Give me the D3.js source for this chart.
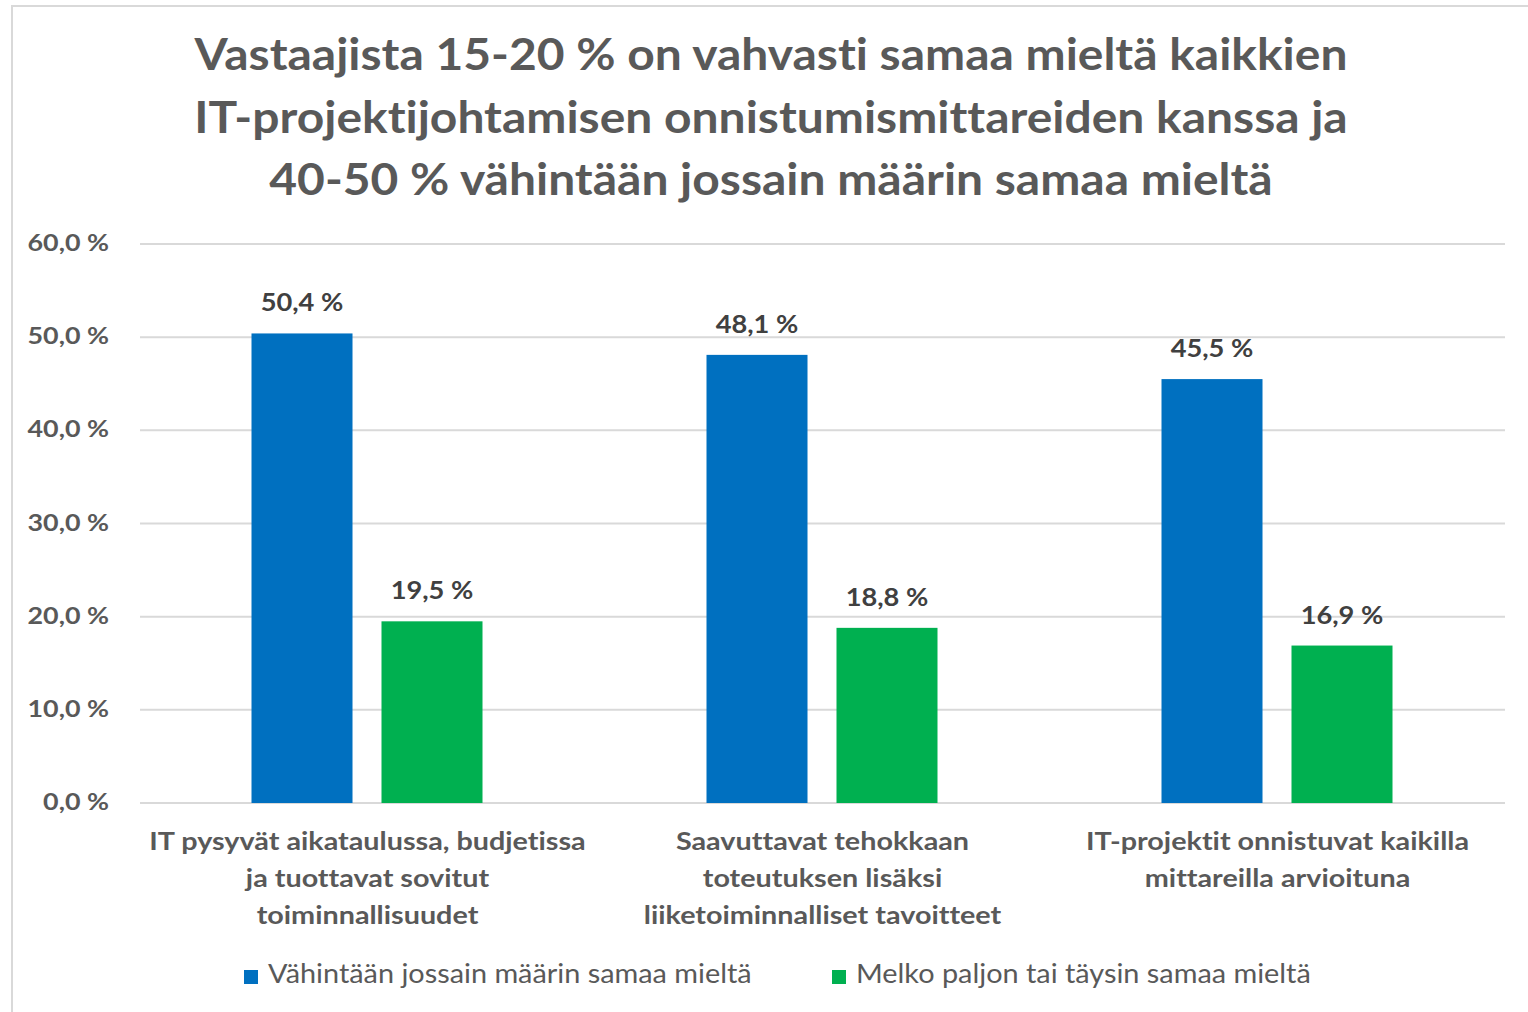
<!DOCTYPE html>
<html><head><meta charset="utf-8">
<script src="https://cdn.jsdelivr.net/npm/d3@7"></script>
<style>body{margin:0;background:#fff;} svg{display:block;font-family:Lato, "Open Sans", sans-serif;font-variant-ligatures:none;font-feature-settings:"liga" 0, "clig" 0;}</style>
</head><body>
<svg id="c" width="1528" height="1012"></svg>
<script>
const titleLines = ["Vastaajista 15-20 % on vahvasti samaa mieltä kaikkien","IT-projektijohtamisen onnistumismittareiden kanssa ja","40-50 % vähintään jossain määrin samaa mieltä"];
const categories = ["c1","c2","c3"];
const categoryLabels = [["IT pysyvät aikataulussa, budjetissa","ja tuottavat sovitut","toiminnallisuudet"],["Saavuttavat tehokkaan","toteutuksen lisäksi","liiketoiminnalliset tavoitteet"],["IT-projektit onnistuvat kaikilla","mittareilla arvioituna"]];
const seriesNames = ["Vähintään jossain määrin samaa mieltä","Melko paljon tai täysin samaa mieltä"];
const seriesColors = ["#0070C0","#00B050"];
const series1 = [50.4, 48.1, 45.5];
const series2 = [19.5, 18.8, 16.9];
const yTicks = [0,10,20,30,40,50,60];

const svg = d3.select("#c");
svg.append("rect").attr("x",12).attr("y",6).attr("width",1530).attr("height",1030).attr("fill","none").attr("stroke","#d9d9d9").attr("stroke-width",2);

const pLeft=140, pRight=1505, pTop=244, pBottom=803;
const x = d3.scaleBand().domain(categories).range([pLeft,pRight]);
const y = d3.scaleLinear().domain([0,60]).range([pBottom,pTop]);

function stext(parent, tx, ty, str, opts){
  return parent.append("text")
    .attr("transform",`translate(${tx},${ty}) scale(${opts.sx},1)`)
    .attr("x",0).attr("y",0)
    .attr("text-anchor",opts.anchor||"start")
    .attr("font-size",opts.size).attr("font-weight",opts.weight||"normal")
    .attr("fill",opts.fill).text(str);
}

titleLines.forEach((l,i)=>stext(svg,771,70+i*62.5,l,{sx:1.09,anchor:"middle",size:44,weight:"bold",fill:"#595959"}));

svg.append("g").selectAll("line").data(yTicks).join("line")
  .attr("x1",pLeft).attr("x2",pRight).attr("y1",d=>y(d)).attr("y2",d=>y(d))
  .attr("stroke","#d9d9d9").attr("stroke-width",2);

const fmt = v => v.toFixed(1).replace(".",",")+" %";
const ya = svg.append("g");
yTicks.forEach(d=>stext(ya,109,y(d)+7,fmt(d),{sx:1.22,anchor:"end",size:22,weight:"bold",fill:"#595959"}));

const inner = d3.scaleBand().domain([0,1]).range([-116,115]).paddingInner(0.223);
const data = categories.map((c,i)=>[series1[i],series2[i]]);
const g = svg.append("g");
categories.forEach((c,i)=>{
  const cx = x(c)+x.bandwidth()/2;
  [0,1].forEach(s=>{
    const v = data[i][s];
    g.append("rect").attr("x",cx+inner(s)).attr("width",inner.bandwidth())
      .attr("y",y(v)).attr("height",y(0)-y(v)).attr("fill",seriesColors[s]);
    stext(g, cx+inner(s)+inner.bandwidth()/2, y(v)-22, fmt(v), {sx:1.09,anchor:"middle",size:25,weight:"bold",fill:"#404040"});
  });
  categoryLabels[i].forEach((l,k)=>stext(g,cx,850+k*37,l,{sx:1.15,anchor:"middle",size:25,weight:"bold",fill:"#595959"}));
});

const legX=[244,832];
seriesNames.forEach((n,i)=>{
  svg.append("rect").attr("x",legX[i]).attr("y",970).attr("width",14).attr("height",14).attr("fill",seriesColors[i]);
  stext(svg,legX[i]+24,983,n,{sx:1.11,anchor:"start",size:26,fill:"#595959"});
});
</script>
</body></html>
